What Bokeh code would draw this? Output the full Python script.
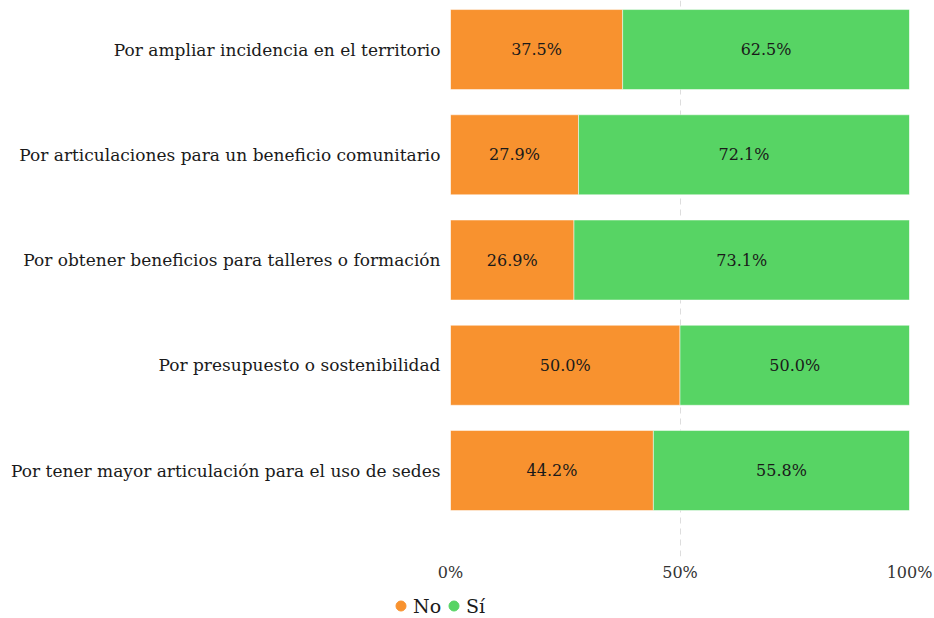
from bokeh.plotting import figure
from bokeh.models import (ColumnDataSource, Range1d, FixedTicker, NumeralTickFormatter,
                          Legend, LegendItem)
from bokeh.layouts import column, row
from bokeh.core.properties import value
from bokeh.embed import file_html
from bokeh.resources import INLINE

categories = [
    "Por ampliar incidencia en el territorio",
    "Por articulaciones para un beneficio comunitario",
    "Por obtener beneficios para talleres o formación",
    "Por presupuesto o sostenibilidad",
    "Por tener mayor articulación para el uso de sedes",
]
no_vals = [37.5, 27.9, 26.9, 50.0, 44.2]
si_vals = [62.5, 72.1, 73.1, 50.0, 55.8]
x_ticks = [0, 0.5, 1.0]
series_names = ["No", "Sí"]
colors = ["#F8922F", "#57D464"]

FONT = "DejaVu Serif"
n = len(categories)
ypos = [n - 1 - i for i in range(n)]

no_frac = [v / 100 for v in no_vals]
si_frac = [v / 100 for v in si_vals]

src = ColumnDataSource(dict(
    y=ypos,
    no=no_frac,
    si_left=no_frac,
    si_right=[a + b for a, b in zip(no_frac, si_frac)],
    no_mid=[a / 2 for a in no_frac],
    si_mid=[a + b / 2 for a, b in zip(no_frac, si_frac)],
    no_lbl=[f"{v:.1f}%" for v in no_vals],
    si_lbl=[f"{v:.1f}%" for v in si_vals],
))

p = figure(width=934, height=590, output_backend="svg", toolbar_location=None,
           x_range=Range1d(0, 1), y_range=Range1d(-0.817, 4.466),
           min_border_left=450, min_border_right=25, min_border_top=0,
           min_border_bottom=34)
p.outline_line_color = None

p.hbar(y="y", left=0, right="no", height=0.76, source=src,
       fill_color=colors[0], line_color="white", line_width=0.5)
p.hbar(y="y", left="si_left", right="si_right", height=0.76, source=src,
       fill_color=colors[1], line_color="white", line_width=0.5)

for xcol, tcol in [("no_mid", "no_lbl"), ("si_mid", "si_lbl")]:
    p.text(x=xcol, y="y", text=tcol, source=src, text_align="center",
           text_baseline="middle", text_font=value(FONT), text_font_size="16px",
           text_color="#1a1a1a")

# axes
p.yaxis.ticker = FixedTicker(ticks=ypos)
p.yaxis.major_label_overrides = {y: c for y, c in zip(ypos, categories)}
p.yaxis.axis_line_color = None
p.yaxis.major_tick_line_color = None
p.yaxis.minor_tick_line_color = None
p.yaxis.major_tick_out = 0
p.yaxis.major_label_standoff = 10
p.yaxis.major_label_text_font = FONT
p.yaxis.major_label_text_font_size = "17px"
p.yaxis.major_label_text_color = "#1a1a1a"

p.xaxis.ticker = FixedTicker(ticks=x_ticks)
p.xaxis.formatter = NumeralTickFormatter(format="0%")
p.xaxis.axis_line_color = None
p.xaxis.major_tick_line_color = None
p.xaxis.minor_tick_line_color = None
p.xaxis.major_tick_out = 0
p.xaxis.major_label_standoff = 6
p.xaxis.major_label_text_font = FONT
p.xaxis.major_label_text_font_size = "16px"
p.xaxis.major_label_text_color = "#333333"

p.ygrid.grid_line_color = None
p.xgrid.grid_line_color = "#dddddd"
p.xgrid.grid_line_dash = "6 5"

# legend strip below the chart
lg = figure(width=934, height=28, output_backend="svg", toolbar_location=None,
            x_range=Range1d(0, 1), y_range=Range1d(0, 1),
            x_axis_location=None, y_axis_location=None,
            min_border_left=0, min_border_right=0, min_border_top=0, min_border_bottom=0)
lg.outline_line_color = None
lg.xgrid.visible = False
lg.ygrid.visible = False
nan = float("nan")
r_no = lg.scatter(x=[nan], y=[nan], marker="circle", size=11, fill_color=colors[0], line_color=colors[0])
r_si = lg.scatter(x=[nan], y=[nan], marker="circle", size=11, fill_color=colors[1], line_color=colors[1])
legend = Legend(items=[LegendItem(label=series_names[0], renderers=[r_no]),
                       LegendItem(label=series_names[1], renderers=[r_si])],
                orientation="horizontal", location=(388, 0),
                label_text_font=FONT, label_text_font_size="19px",
                label_text_color="#1a1a1a", glyph_width=25, glyph_height=25,
                label_standoff=0, spacing=0, padding=0, margin=0,
                background_fill_alpha=0, border_line_color=None)
lg.add_layout(legend, "center")

layout = column(p, row(lg), spacing=0)
open("out.html", "w").write(file_html(layout, INLINE))
